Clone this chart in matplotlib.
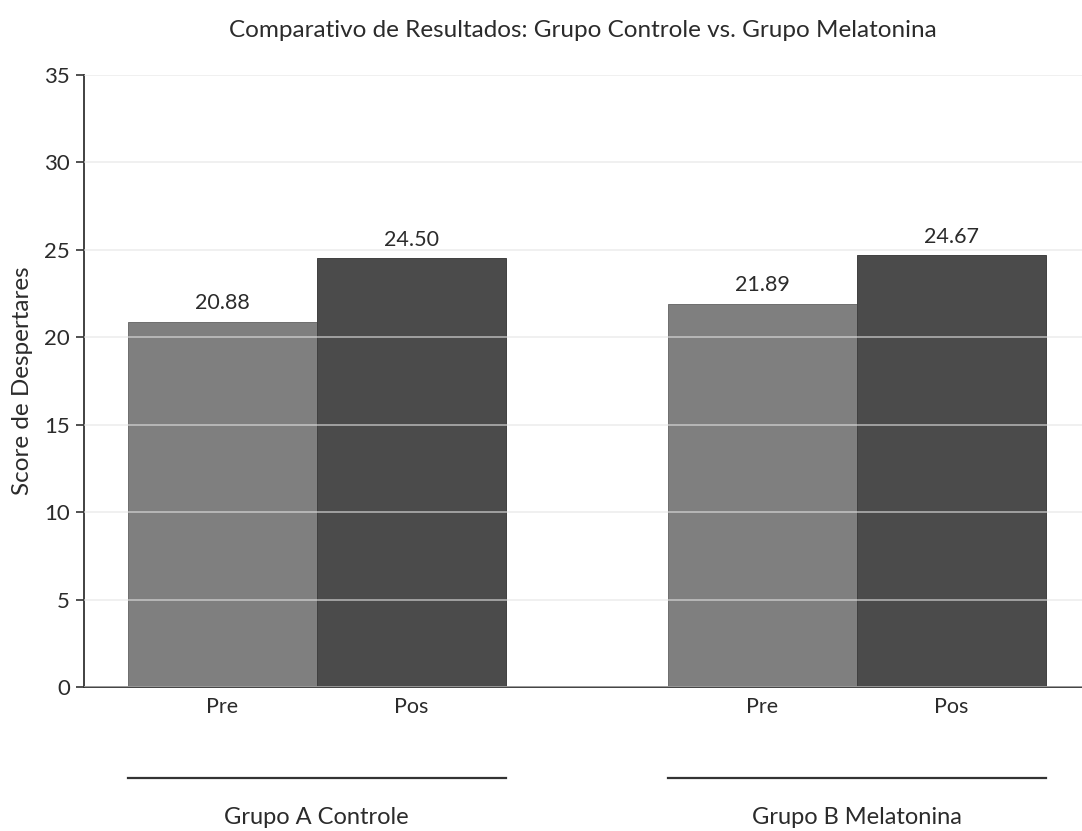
import matplotlib

matplotlib.use("Agg")
matplotlib.rcParams["font.family"] = ["Lato", "DejaVu Sans"]
import matplotlib.pyplot as plt
import matplotlib.transforms as mtransforms
import numpy as np

# ── data ──────────────────────────────────────────────────────────────────────
GROUPS = ["Grupo A Controle", "Grupo B Melatonina"]
PHASES = ["Pre", "Pos"]
PRE = [20.88, 21.89]
POS = [24.50, 24.67]

C_PRE = "#7f7f7f"
C_POS = "#4b4b4b"
TEXT = "#2b2b2b"
GRID_COL = "#e4e4e4"


def main():
    x = np.arange(len(GROUPS))
    w = 0.35

    fig = plt.figure(figsize=(10.82, 8.31), dpi=100)
    ax = fig.add_axes([0.0776, 0.1733, 0.9224, 0.7367])

    ax.bar(x - w / 2, PRE, width=w, color=C_PRE, edgecolor="#6e6e6e",
           linewidth=0.7, zorder=2)
    ax.bar(x + w / 2, POS, width=w, color=C_POS, edgecolor="#404040",
           linewidth=0.7, zorder=2)

    ax.grid(axis="y", color=GRID_COL, linewidth=1.3, alpha=0.6, zorder=3)
    ax.set_axisbelow(False)
    for line in ax.get_ygridlines():
        line.set_zorder(3)

    # value labels above each bar
    for xs, vals in [(x - w / 2, PRE), (x + w / 2, POS)]:
        for xi, v in zip(xs, vals):
            ax.text(xi, v + 0.5, f"{v:.2f}", ha="center", va="bottom",
                    fontsize=15.5, color=TEXT, zorder=4)

    ax.set_ylim(0, 35)
    ax.set_yticks(np.arange(0, 36, 5))
    ax.set_xlim(-0.431, 1.417)
    ax.set_xticks(np.concatenate([x - w / 2, x + w / 2]))
    ax.set_xticklabels(PHASES[:1] * len(x) + PHASES[1:] * len(x))

    ax.spines[["top", "right"]].set_visible(False)
    for s in ["left", "bottom"]:
        ax.spines[s].set_color("#333333")
        ax.spines[s].set_linewidth(1.3)
    ax.tick_params(axis="y", length=6, width=1.2, color="#333333",
                   labelsize=16, labelcolor=TEXT, pad=4)
    ax.tick_params(axis="x", length=0, labelsize=15.5, labelcolor=TEXT, pad=7)

    ax.set_ylabel("Score de Despertares", fontsize=17.5, color=TEXT, labelpad=8)
    ax.set_title("Comparativo de Resultados: Grupo Controle vs. Grupo Melatonina",
                 fontsize=17.5, color=TEXT, pad=27)

    # group brackets under the phase labels
    trans = mtransforms.blended_transform_factory(ax.transData, ax.transAxes)
    for xi, name in zip(x, GROUPS):
        ax.plot([xi - w, xi + w], [-0.149, -0.149], transform=trans,
                color="#333333", linewidth=1.6, clip_on=False)
        ax.text(xi, -0.214, name, transform=trans, ha="center", va="center",
                fontsize=17, color=TEXT)

    fig.savefig("out.png", dpi=100, facecolor="white")
    plt.close(fig)


if __name__ == "__main__":
    main()
